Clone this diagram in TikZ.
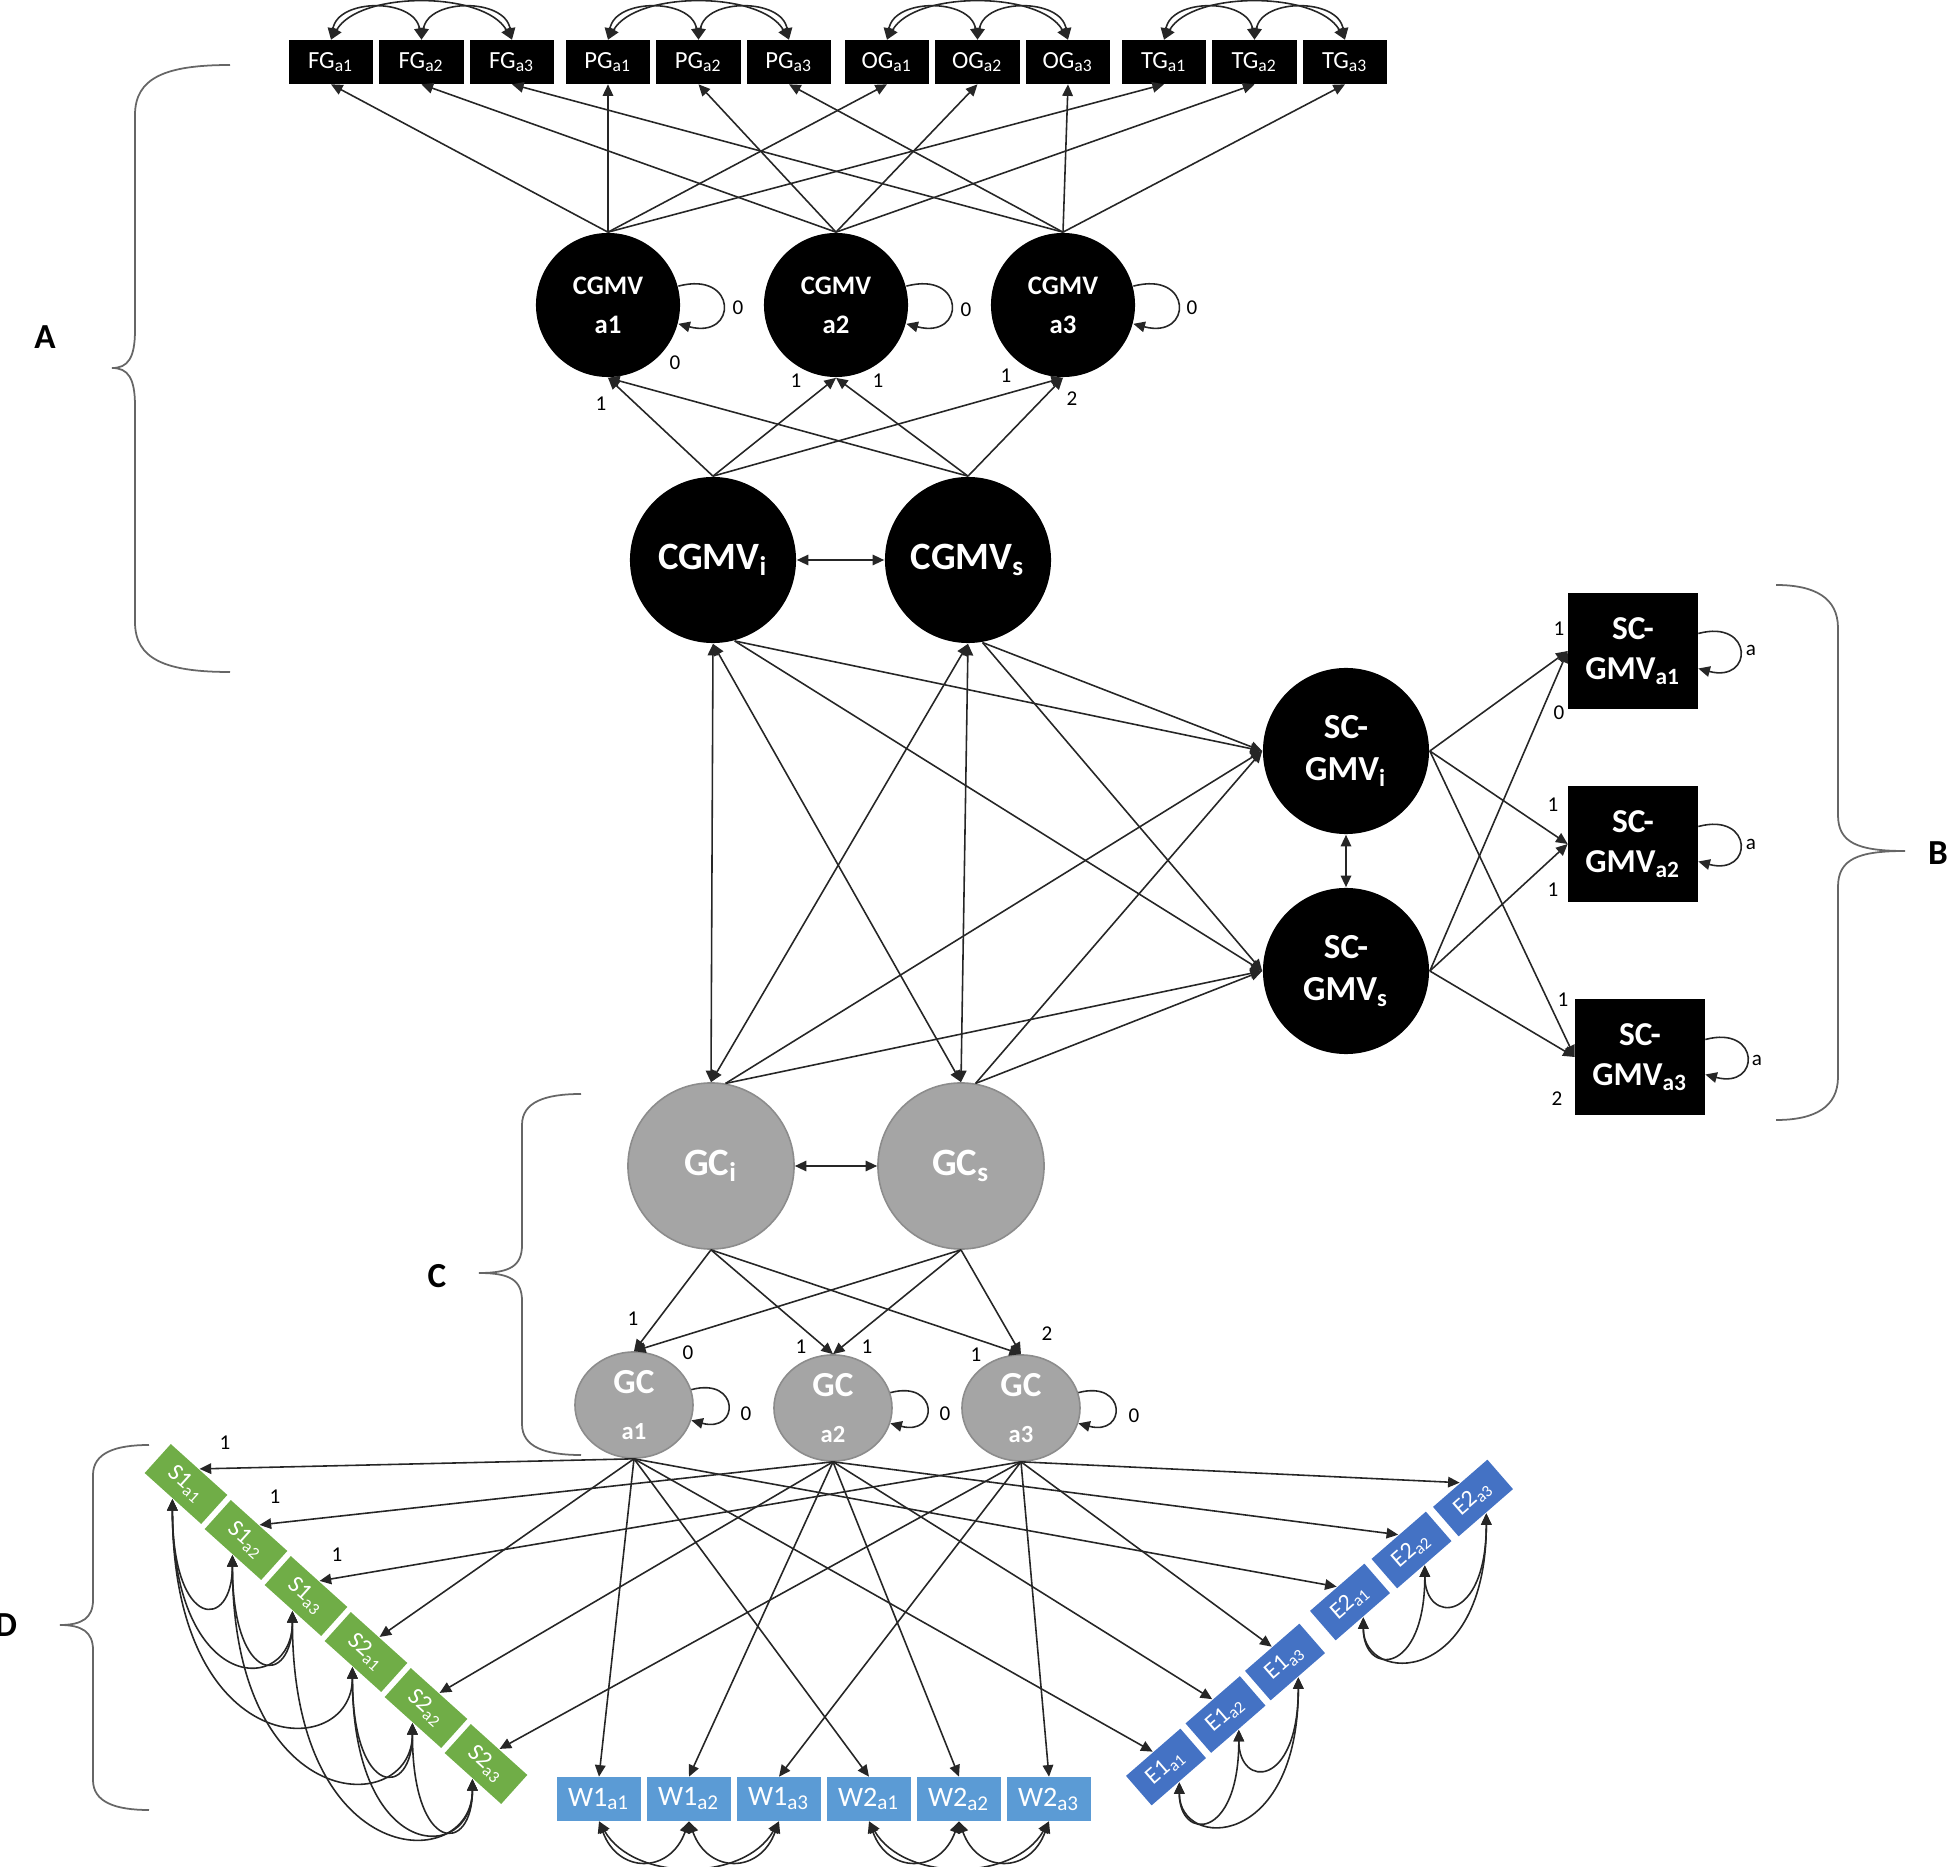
\documentclass[tikz,border=0pt]{standalone}
\usepackage{fontspec}
\setmainfont{Carlito}
\usetikzlibrary{arrows.meta,shapes.geometric}
\definecolor{sgreen}{HTML}{70AD47}
\definecolor{wblue}{HTML}{5B9BD5}
\definecolor{eblue}{HTML}{4472C4}
\definecolor{gcgray}{HTML}{A5A5A5}
\tikzstyle{latent}=[circle,fill=black,text=white,inner sep=0pt,minimum size=1.66cm,align=center,font=\fontsize{11}{13}\selectfont\bfseries]
\tikzstyle{occasion}=[latent,minimum size=1.44cm,font=\fontsize{7.6}{11}\selectfont\bfseries]
\tikzstyle{gclat}=[latent,fill=gcgray,draw=black!45]
\tikzstyle{gcocc}=[ellipse,fill=gcgray,draw=black!45,text=white,inner sep=0pt,minimum width=1.18cm,minimum height=1.06cm,align=center,font=\fontsize{10}{13}\selectfont\bfseries]
\tikzstyle{obs}=[rectangle,fill=black,text=white,inner sep=0pt,minimum width=0.84cm,minimum height=0.43cm,font=\fontsize{7}{8}\selectfont]
\tikzstyle{scbox}=[rectangle,fill=black,text=white,inner sep=0pt,minimum width=1.29cm,minimum height=1.16cm,align=center,font=\fontsize{9.5}{11.5}\selectfont\bfseries]
\tikzstyle{sbox}=[rectangle,fill=sgreen,text=white,inner sep=0pt,minimum width=0.76cm,minimum height=0.39cm,rotate=-42,font=\fontsize{6.8}{7}\selectfont]
\tikzstyle{wbox}=[rectangle,fill=wblue,text=white,inner sep=0pt,minimum width=0.83cm,minimum height=0.43cm,font=\fontsize{8}{9}\selectfont]
\tikzstyle{ebox}=[rectangle,fill=eblue,text=white,inner sep=0pt,minimum width=0.72cm,minimum height=0.39cm,rotate=41,font=\fontsize{6.8}{7}\selectfont]
\tikzstyle{coef}=[inner sep=0pt,font=\fontsize{6}{7}\selectfont]
\tikzstyle{bracelabel}=[inner sep=0pt,font=\fontsize{10}{12}\selectfont\bfseries]
\tikzstyle{bracepath}=[draw=black!60,line width=0.5pt]

\begin{document}
\begin{tikzpicture}[x=0.01cm,y=-0.01cm,>={Triangle[length=3.3pt,width=3pt]},line width=0.45pt,draw=black!85]
\useasboundingbox (0,0) rectangle (1950,1867);
% top indicators
\foreach \t/\T/\x in {fg/FG/331,pg/PG/608,og/OG/887,tg/TG/1164}
  \foreach \n in {1,2,3}
    \node[obs] at ({\x+90.5*(\n-1)},62) (\t\n) {\T\textsubscript{a\n}};
\node[occasion] at (608,305) (cg1) {CGMV\\a1};
\node[occasion] at (836,305) (cg2) {CGMV\\a2};
\node[occasion] at (1063,305) (cg3) {CGMV\\a3};
\node[latent] at (713,560) (cgi) {CGMV\textsubscript{i}};
\node[latent] at (968,560) (cgs) {CGMV\textsubscript{s}};
\node[latent,font=\fontsize{10}{12}\selectfont\bfseries] at (1346,751) (sci) {SC-\\GMV\textsubscript{i}};
\node[latent,font=\fontsize{10}{12}\selectfont\bfseries] at (1346,971) (scs) {SC-\\GMV\textsubscript{s}};
\node[scbox] at (1633,651) (sc1) {SC-\\GMV\textsubscript{a1}};
\node[scbox] at (1633,844) (sc2) {SC-\\GMV\textsubscript{a2}};
\node[scbox] at (1640,1057) (sc3) {SC-\\GMV\textsubscript{a3}};
\node[gclat] at (711,1166) (gci) {GC\textsubscript{i}};
\node[gclat] at (961,1166) (gcs) {GC\textsubscript{s}};
\node[gcocc] at (634,1405) (gc1) {GC\\{\fontsize{7}{8}\selectfont a1}};
\node[gcocc] at (833,1408) (gc2) {GC\\{\fontsize{7}{8}\selectfont a2}};
\node[gcocc] at (1021,1408) (gc3) {GC\\{\fontsize{7}{8}\selectfont a3}};
% bottom indicators
\foreach \n in {1,2,3} {
  \node[sbox] at ({186+60*(\n-1)},{1484+56*(\n-1)}) (s1\n) {S1\textsubscript{a\n}};
  \node[sbox] at ({186+60*(\n+2)},{1484+56*(\n+2)}) (s2\n) {S2\textsubscript{a\n}};
  \node[wbox] at ({599+90*(\n-1)},1799) (w1\n) {W1\textsubscript{a\n}};
  \node[wbox] at ({869+90*(\n-1)},1799) (w2\n) {W2\textsubscript{a\n}};
  \node[ebox] at ({1166+59.5*(\n-1)},{1767-52.5*(\n-1)}) (e1\n) {E1\textsubscript{a\n}};
  \node[ebox] at ({1350+61.5*(\n-1)},{1602-52*(\n-1)}) (e2\n) {E2\textsubscript{a\n}};
}
% loadings
\foreach \n in {1,2,3} {
  \foreach \t in {fg,pg,og,tg}
    \draw[->] (cg\n.north) -- (\t\n.south);
  \draw[->] (cgi.north) -- (cg\n.south);
  \draw[->] (cgs.north) -- (cg\n.south);
  \draw[->] (sci.east) -- (sc\n.west);
  \draw[->] (scs.east) -- (sc\n.west);
  \draw[->] (gci.south) -- (gc\n.north);
  \draw[->] (gcs.south) -- (gc\n.north);
  \foreach \t in {s1,s2,w1,w2,e1,e2}
    \draw[->] (gc\n.south) -- (\t\n.north);
}
\draw[<->] (cgi) -- (cgs);
\draw[<->] (sci) -- (scs);
\draw[<->] (gci) -- (gcs);
\draw[<->] (cgi.south) -- (gci.north);
\draw[<->] (cgi.south) -- (gcs.north);
\draw[<->] (cgs.south) -- (gci.north);
\draw[<->] (cgs.south) -- (gcs.north);
\foreach \src in {cgi.-75,cgs.-80,gci.80,gcs.80}
  \foreach \dst in {sci,scs}
    \draw[->] (\src) -- (\dst.west);
% residual variances
\foreach \nd in {cg1,cg2,cg3,gc1,gc2,gc3,sc1,sc2,sc3}
  \draw[->] (\nd.15) to[out=15,in=-15,looseness=4.2] (\nd.-15);
% residual covariances
\foreach \t in {fg,pg,og,tg} {
  \draw[<->] (\t1.north) to[out=80,in=100,looseness=1.2] (\t2.north);
  \draw[<->] (\t2.north) to[out=80,in=100,looseness=1.2] (\t3.north);
  \draw[<->] (\t1.north) to[out=60,in=120,looseness=0.8] (\t3.north);
}
\foreach \t in {w1,w2} {
  \draw[<->] (\t1.south) to[out=-70,in=-110,looseness=1.6] (\t2.south);
  \draw[<->] (\t2.south) to[out=-70,in=-110,looseness=1.6] (\t3.south);
  \draw[<->] (\t1.south) to[out=-60,in=-120,looseness=1] (\t3.south);
}
\foreach \t in {s1,s2} {
  \draw[<->] (\t1.south) .. controls +(0,132) and +(0,76) .. (\t2.south);
  \draw[<->] (\t2.south) .. controls +(0,132) and +(0,76) .. (\t3.south);
  \draw[<->] (\t1.south) .. controls +(0,197) and +(0,85) .. (\t3.south);
}
\foreach \n in {1,2,3}
  \draw[<->] (s1\n.south) .. controls +(0,263) and +(0,95) .. (s2\n.south);
\foreach \t in {e1,e2} {
  \draw[<->] (\t1.south) .. controls +(0,59) and +(0,111) .. (\t2.south);
  \draw[<->] (\t2.south) .. controls +(0,59) and +(0,111) .. (\t3.south);
  \draw[<->] (\t1.south) .. controls +(0,68) and +(0,173) .. (\t3.south);
}
% coefficients
\foreach \v/\x/\y [count=\k] in {1/601/404,0/675/363,1/796/381,1/878/381,1/1006/376,2/1072/399,
    0/738/308,0/966/310,0/1192/308,
    1/1559/629,0/1559/713,1/1553/805,1/1553/890,1/1563/1000,2/1557/1099,
    a/1751/650,a/1751/844,a/1757/1060,
    1/633/1319,0/688/1353,1/801/1347,1/867/1347,1/976/1355,2/1047/1334,
    0/746/1414,0/945/1414,0/1134/1416,
    1/225/1443,1/275/1497,1/337/1555}
  \node[coef] at (\x,\y) (k\k) {\v};
% braces
\draw[bracepath] (230,65) .. controls (165,65) and (135,78) .. (135,115) -- (135,330) .. controls (135,358) and (128,368) .. (112,368) .. controls (128,368) and (135,378) .. (135,406) -- (135,622) .. controls (135,659) and (165,672) .. (230,672);
\draw[bracepath] (1776,585) .. controls (1815,585) and (1838,598) .. (1838,628) -- (1838,815) .. controls (1838,843) and (1858,851) .. (1905,851) .. controls (1858,851) and (1838,859) .. (1838,887) -- (1838,1077) .. controls (1838,1107) and (1815,1120) .. (1776,1120);
\draw[bracepath] (581,1094) .. controls (545,1094) and (522,1102) .. (522,1125) -- (522,1245) .. controls (522,1266) and (510,1273) .. (479,1273) .. controls (510,1273) and (522,1280) .. (522,1301) -- (522,1424) .. controls (522,1447) and (545,1455) .. (581,1455);
\draw[bracepath] (149,1445) .. controls (115,1445) and (93,1453) .. (93,1475) -- (93,1600) .. controls (93,1618) and (82,1625) .. (60,1625) .. controls (82,1625) and (93,1632) .. (93,1650) -- (93,1780) .. controls (93,1802) and (115,1810) .. (149,1810);
\node[bracelabel] at (45,337) (la) {A};
\node[bracelabel] at (1938,853) (lb) {B};
\node[bracelabel] at (437,1276) (lc) {C};
\node[bracelabel] at (6,1625) (ld) {D};
\end{tikzpicture}
\end{document}
